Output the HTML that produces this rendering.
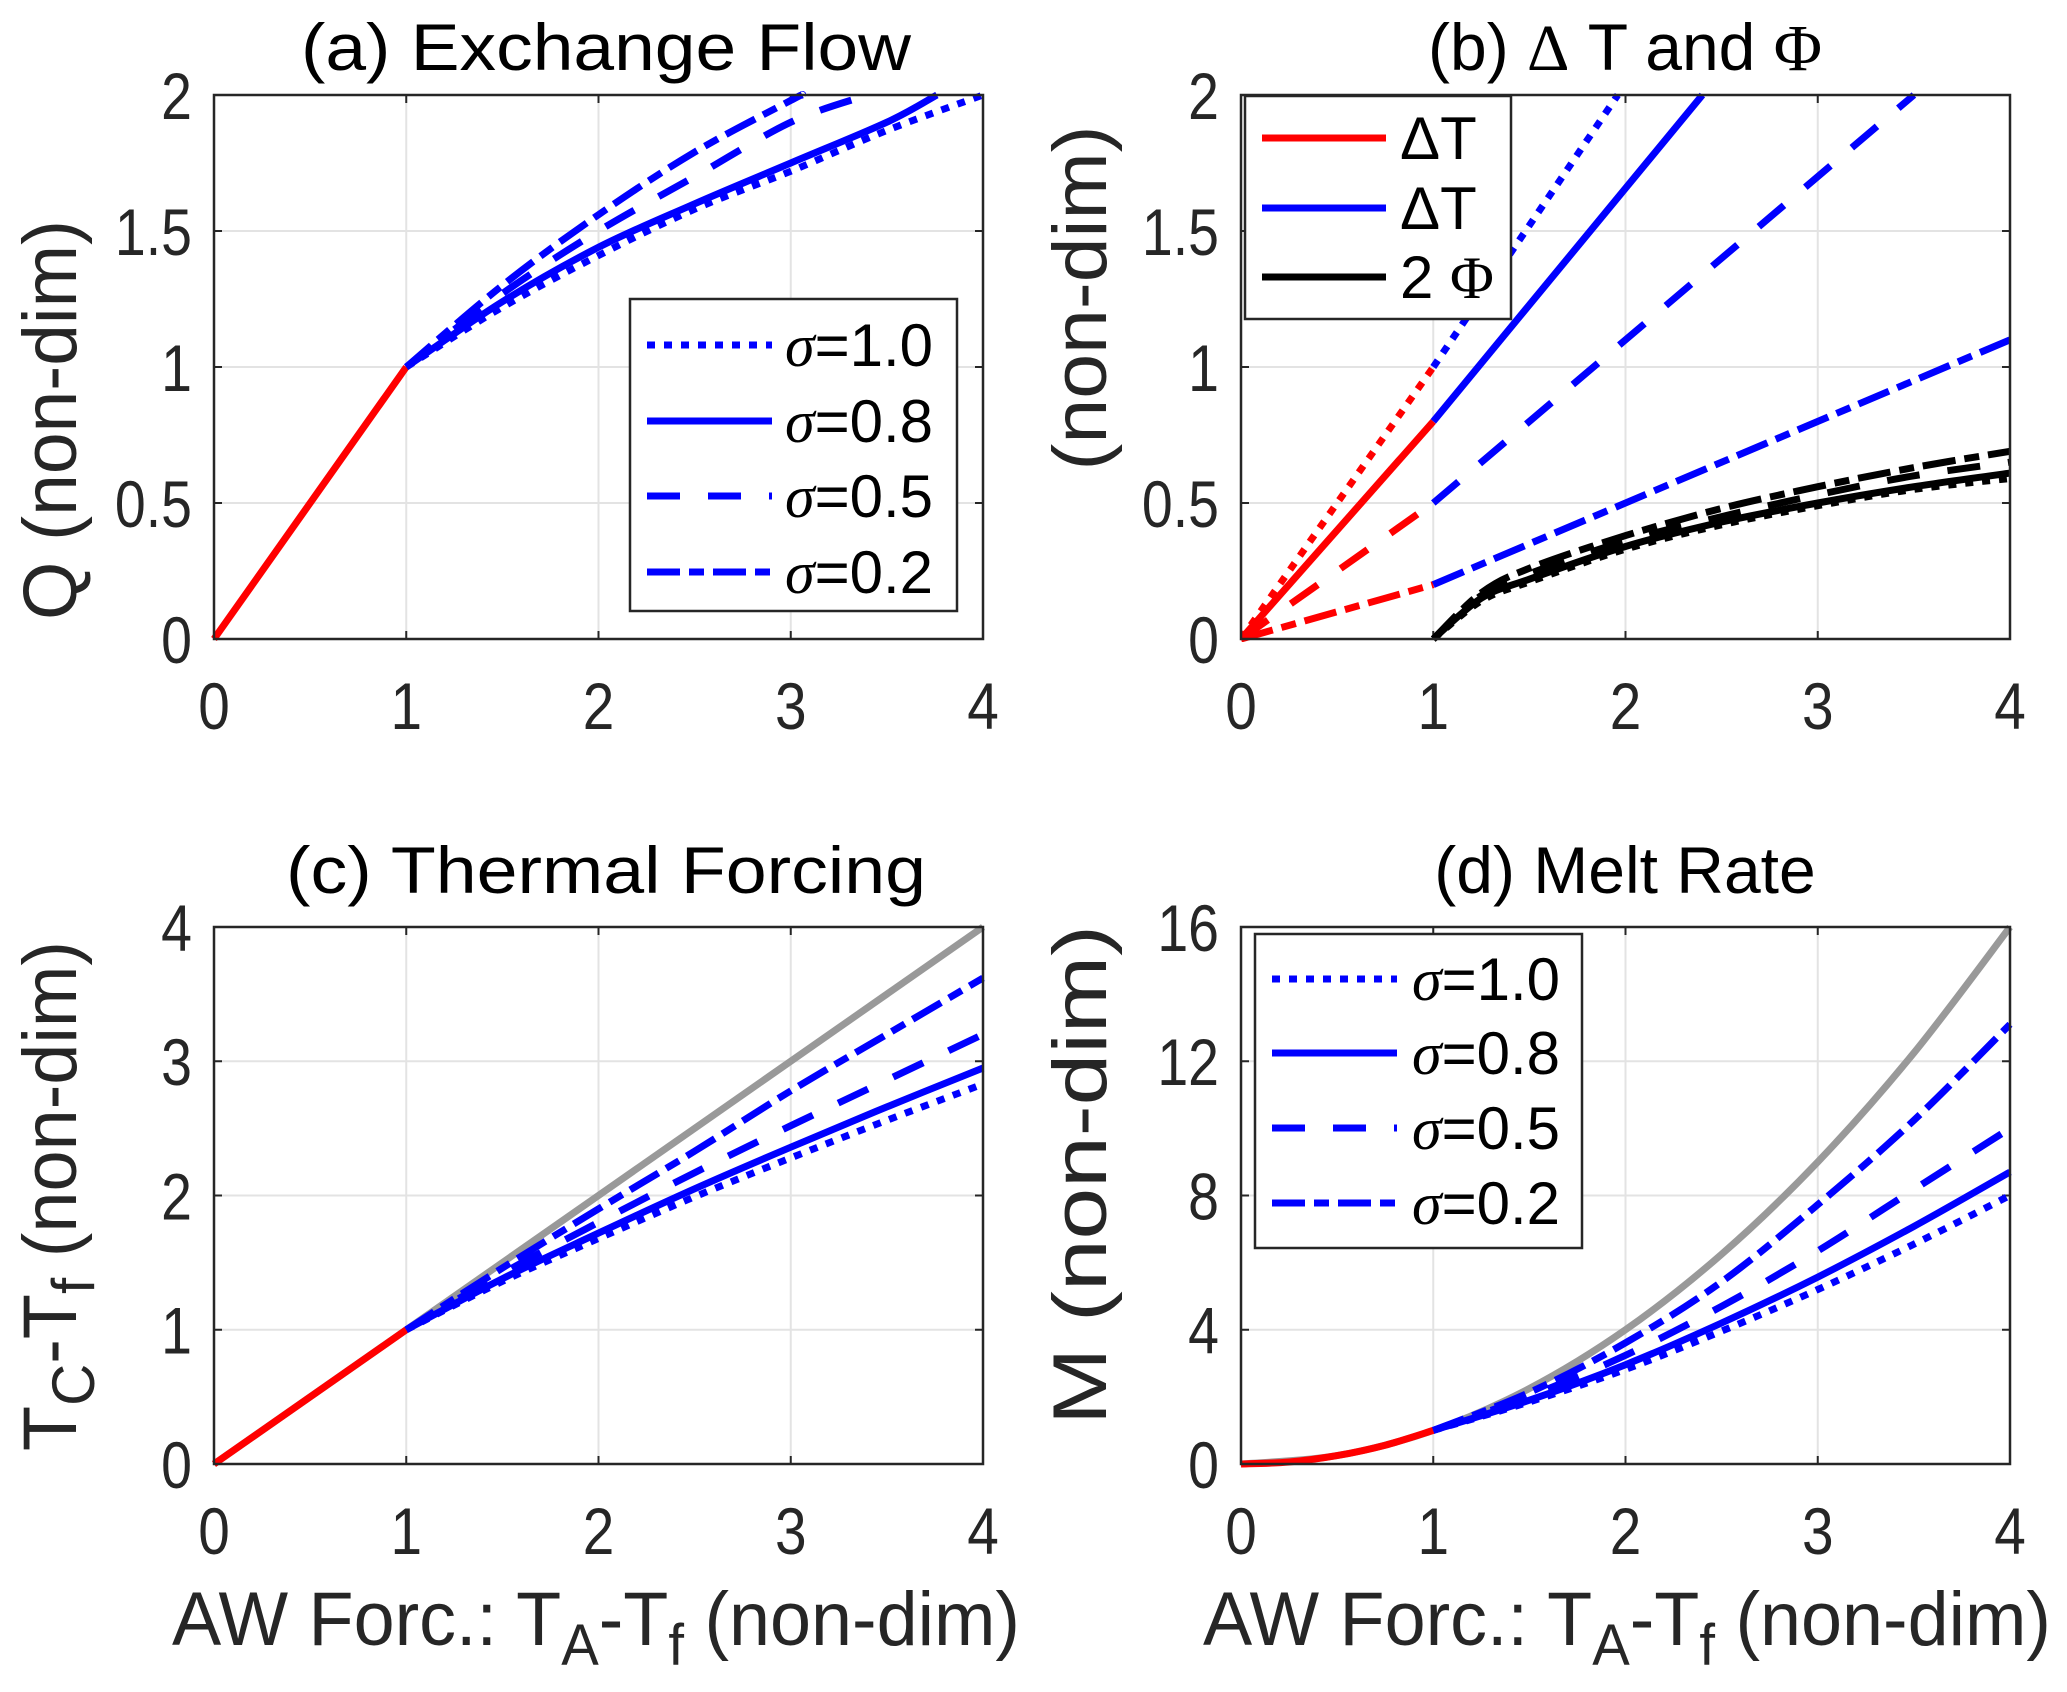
<!DOCTYPE html>
<html><head><meta charset="utf-8"><style>
html,body{margin:0;padding:0;background:#fff;}
svg{display:block;font-family:"Liberation Sans",Arial,sans-serif;}
.nar{transform-box:fill-box;transform-origin:center;transform:scaleX(0.86);}
.narR{transform-box:fill-box;transform-origin:right center;transform:scaleX(0.84);}
</style></head><body>
<svg id="fig" width="2067" height="1692" viewBox="0 0 2067 1692" xmlns="http://www.w3.org/2000/svg"></svg>
<script>
// ---------- data ----------
const xTicks = [0,1,2,3,4];
const yTicksA = [0,0.5,1,1.5,2];
const yTicksB = [0,0.5,1,1.5,2];
const yTicksC = [0,1,2,3,4];
const yTicksD = [0,4,8,12,16];
const tickLabelsA = ['0','0.5','1','1.5','2'];
const tickLabelsC = ['0','1','2','3','4'];
const tickLabelsD = ['0','4','8','12','16'];
const sigmaLabels = ['1.0','0.8','0.5','0.2'];

// (a) exchange flow
const redQx = [0,1];
const redQy = [0,1];
const qX10 = [1,1.5,2,2.5,3,3.5,4];       const qY10 = [1,1.22,1.41,1.58,1.72,1.87,2.0];
const qX08 = [1,1.5,2,2.5,3,3.5,3.76];    const qY08 = [1,1.24,1.44,1.6,1.75,1.9,2.0];
const qX05 = [1,1.5,2,2.5,3,3.4];         const qY05 = [1,1.27,1.5,1.7,1.9,2.0];
const qX02 = [1,1.5,2,2.5,3,3.06];        const qY02 = [1,1.3,1.56,1.79,1.98,2.0];

// (b) delta T and Phi
const dtRedX = [0,1];
const dtRed10 = [0,1.0]; const dtRed08 = [0,0.8]; const dtRed05 = [0,0.5]; const dtRed02 = [0,0.2];
const dtX10 = [1,1.96]; const dtY10 = [1.0,2.0];
const dtX08 = [1,2.4];  const dtY08 = [0.8,2.0];
const dtX05 = [1,3.5];  const dtY05 = [0.5,2.0];
const dtX02 = [1,4];    const dtY02 = [0.2,1.1];
const phiX = [1,1.25,1.5,2,2.5,3,3.5,4];
const phi10 = [0,0.14,0.21,0.33,0.42,0.49,0.55,0.59];
const phi08 = [0,0.15,0.22,0.34,0.43,0.5,0.56,0.61];
const phi05 = [0,0.16,0.24,0.36,0.45,0.53,0.6,0.65];
const phi02 = [0,0.17,0.26,0.38,0.48,0.56,0.63,0.69];

// (c) thermal forcing
const tcRedX = [0,1]; const tcRedY = [0,1];
const tcGrayX = [0,4]; const tcGrayY = [0,4];
const tcX = [1,1.5,2,2.5,3,3.5,4];
const tc10 = [1,1.36,1.68,1.99,2.28,2.56,2.83];
const tc08 = [1,1.38,1.72,2.05,2.36,2.66,2.95];
const tc05 = [1,1.42,1.8,2.17,2.52,2.86,3.2];
const tc02 = [1,1.46,1.9,2.33,2.78,3.2,3.62];

// (d) melt rate
const mRedX = [0,0.25,0.5,0.75,1]; const mRedY = [0,0.06,0.25,0.56,1];
const mGrayX = [0,0.5,1,1.5,2,2.5,3,3.5,4]; const mGrayY = [0,0.25,1,2.25,4,6.25,9,12.25,16];
const mX = [1,1.5,2,2.5,3,3.5,4];
const m10 = [1,1.85,2.82,3.96,5.2,6.55,8.0];
const m08 = [1,1.9,2.96,4.2,5.57,7.08,8.7];
const m05 = [1,2.02,3.24,4.7,6.35,8.18,10.0];
const m02 = [1,2.13,3.61,5.43,7.73,10.24,13.1];

// ---------- drawing ----------
const NS='http://www.w3.org/2000/svg';
const svg=document.getElementById('fig');
const STY={dot:'8 9',solid:'',dash:'33 28',dashdot:'33 9 15 9'};
const BLUE='#0000ff', RED='#ff0000', GRAY='#999999', INK='#262626';
const LW=7;
function mk(tag,attrs,parent){const e=document.createElementNS(NS,tag);for(const k in attrs)e.setAttribute(k,attrs[k]);(parent||svg).appendChild(e);return e;}
function smoothPath(pts){
  if(pts.length<3){return 'M'+pts.map(p=>p[0].toFixed(1)+','+p[1].toFixed(1)).join(' L');}
  let d='M'+pts[0][0].toFixed(1)+','+pts[0][1].toFixed(1);
  for(let i=0;i<pts.length-1;i++){
    const p0=pts[Math.max(0,i-1)],p1=pts[i],p2=pts[i+1],p3=pts[Math.min(pts.length-1,i+2)];
    const c1=[p1[0]+(p2[0]-p0[0])/6,p1[1]+(p2[1]-p0[1])/6];
    const c2=[p2[0]-(p3[0]-p1[0])/6,p2[1]-(p3[1]-p1[1])/6];
    d+=' C'+c1.map(v=>v.toFixed(1)).join(',')+' '+c2.map(v=>v.toFixed(1)).join(',')+' '+p2[0].toFixed(1)+','+p2[1].toFixed(1);
  }
  return d;
}
function makeAxes(L,R,T,B,ymax){return {sx:x=>L+x/4*(R-L),sy:y=>B-y/ymax*(B-T),L,R,T,B};}
function drawFrame(ax,yt,ylabels,g){
  for(const t of xTicks){
    const gl=mk('line',{x1:ax.sx(t),x2:ax.sx(t),y1:ax.T,y2:ax.B,stroke:'#e3e3e3','stroke-width':2},g);
    
    
  }
  yt.forEach(t=>{
    const gl=mk('line',{x1:ax.L,x2:ax.R,y1:ax.sy(t),y2:ax.sy(t),stroke:'#e3e3e3','stroke-width':2},g);
    
    
  });
  xTicks.forEach(t=>{
    const tx=mk('text',{x:ax.sx(t),y:ax.B+90,'font-size':66,'text-anchor':'middle',fill:INK,class:'nar'},g);
    tx.textContent=String(t);
    
    
    mk('line',{x1:ax.sx(t),x2:ax.sx(t),y1:ax.B,y2:ax.B-8,stroke:INK,'stroke-width':2},g);
    mk('line',{x1:ax.sx(t),x2:ax.sx(t),y1:ax.T,y2:ax.T+8,stroke:INK,'stroke-width':2},g);
  });
  yt.forEach((t,i)=>{
    const tx=mk('text',{x:ax.L-22,y:ax.sy(t)+24,'font-size':66,'text-anchor':'end',fill:INK,class:'narR'},g);
    tx.textContent=ylabels[i];
    
    
    mk('line',{x1:ax.L,x2:ax.L+8,y1:ax.sy(t),y2:ax.sy(t),stroke:INK,'stroke-width':2},g);
    mk('line',{x1:ax.R,x2:ax.R-8,y1:ax.sy(t),y2:ax.sy(t),stroke:INK,'stroke-width':2},g);
  });
}
function drawBox(ax,g){
  const r=mk('rect',{x:ax.L,y:ax.T,width:ax.R-ax.L,height:ax.B-ax.T,fill:'none',stroke:INK,'stroke-width':2.5},g);
  
  
}
function series(ax,xs,ys,color,style,name,g){
  const pts=xs.map((x,i)=>[ax.sx(x),ax.sy(ys[i])]);
  const p=mk('path',{d:smoothPath(pts),fill:'none',stroke:color,'stroke-width':LW,'stroke-dasharray':STY[style]||'none'},g);
  
  
}
function text(x,y,str,size,attrs,name,g){
  const t=mk('text',Object.assign({x:x,y:y,'font-size':size,fill:'#000'},attrs||{}),g);
  t.innerHTML=str;
  
  
  return t;
}
function sigmaLegend(x0,y0,x1,y1,ys,lineX0,lineX1,textX,g){
  const lg=mk('g',{},g);
  
  
  mk('rect',{x:x0,y:y0,width:x1-x0,height:y1-y0,fill:'#fff',stroke:INK,'stroke-width':2.5},lg);
  const styles=['dot','solid','dash','dashdot'];
  styles.forEach((s,i)=>{
    const e=mk('g',{},lg);
    
    
    mk('line',{x1:lineX0,x2:lineX1,y1:ys[i],y2:ys[i],stroke:BLUE,'stroke-width':LW,'stroke-dasharray':STY[s]||'none'},e);
    const t=mk('text',{x:textX,y:ys[i]+21,'font-size':60,fill:'#000'},e);
    t.innerHTML='<tspan font-family="Liberation Serif, serif" font-style="italic">σ</tspan>='+sigmaLabels[i];
  });
}

// Panel (a)
(function(){
  const g=mk('g',{});  
  const ax=makeAxes(214,983,95,639,2);
  drawFrame(ax,yTicksA,tickLabelsA,g);
  series(ax,redQx,redQy,RED,'solid','red-q-line',g);
  series(ax,qX10,qY10,BLUE,'dot','q-sigma-1.0',g);
  series(ax,qX08,qY08,BLUE,'solid','q-sigma-0.8',g);
  series(ax,qX05,qY05,BLUE,'dash','q-sigma-0.5',g);
  series(ax,qX02,qY02,BLUE,'dashdot','q-sigma-0.2',g);
  drawBox(ax,g);
  sigmaLegend(630,299,957,611,[345,421,496,572],647,772,785,g);
  text(606,70,'(a) Exchange Flow',66,{'text-anchor':'middle',textLength:610,lengthAdjust:'spacingAndGlyphs'},'title-a',g);
  text(0,0,'Q (non-dim)',76,{'text-anchor':'middle',fill:INK,transform:'translate(76,420) rotate(-90)',textLength:400,lengthAdjust:'spacingAndGlyphs'},'y-axis-title-a',g);
})();

// Panel (b)
(function(){
  const g=mk('g',{});  
  const ax=makeAxes(1241,2010,95,639,2);
  drawFrame(ax,yTicksB,tickLabelsA,g);
  const clip=mk('clipPath',{id:'clipb'},g); mk('rect',{x:ax.L,y:ax.T-3,width:ax.R-ax.L,height:ax.B-ax.T+6},clip);
  const cg=mk('g',{'clip-path':'url(#clipb)'},g);
  series(ax,dtRedX,dtRed10,RED,'dot','dt-red-sigma-1.0',cg);
  series(ax,dtRedX,dtRed08,RED,'solid','dt-red-sigma-0.8',cg);
  series(ax,dtRedX,dtRed05,RED,'dash','dt-red-sigma-0.5',cg);
  series(ax,dtRedX,dtRed02,RED,'dashdot','dt-red-sigma-0.2',cg);
  series(ax,dtX10,dtY10,BLUE,'dot','dt-blue-sigma-1.0',cg);
  series(ax,dtX08,dtY08,BLUE,'solid','dt-blue-sigma-0.8',cg);
  series(ax,dtX05,dtY05,BLUE,'dash','dt-blue-sigma-0.5',cg);
  series(ax,dtX02,dtY02,BLUE,'dashdot','dt-blue-sigma-0.2',cg);
  series(ax,phiX,phi10,'#000','dot','phi-sigma-1.0',cg);
  series(ax,phiX,phi08,'#000','solid','phi-sigma-0.8',cg);
  series(ax,phiX,phi05,'#000','dash','phi-sigma-0.5',cg);
  series(ax,phiX,phi02,'#000','dashdot','phi-sigma-0.2',cg);
  drawBox(ax,g);
  const lg=mk('g',{},g);  
  mk('rect',{x:1245,y:96,width:266,height:223,fill:'#fff',stroke:INK,'stroke-width':2.5},lg);
  const cols=[RED,BLUE,'#000'], labs=['ΔT','ΔT','2 <tspan font-family="Liberation Serif, serif">Φ</tspan>'], ly=[138,208,277];
  cols.forEach((c,i)=>{
    const e=mk('g',{},lg);
    
    
    mk('line',{x1:1262,x2:1386,y1:ly[i],y2:ly[i],stroke:c,'stroke-width':LW},e);
    const t=mk('text',{x:1400,y:ly[i]+21,'font-size':60,fill:'#000'},e); t.innerHTML=labs[i];
  });
  text(1625,70,'(b) <tspan font-family="Liberation Serif, serif">Δ</tspan> T and <tspan font-family="Liberation Serif, serif">Φ</tspan>',66,{'text-anchor':'middle'},'title-b',g);
  text(0,0,'(non-dim)',76,{'text-anchor':'middle',fill:INK,transform:'translate(1106,298) rotate(-90)',textLength:345,lengthAdjust:'spacingAndGlyphs'},'y-axis-title-b',g);
})();

// Panel (c)
(function(){
  const g=mk('g',{});  
  const ax=makeAxes(214,983,927,1464,4);
  drawFrame(ax,yTicksC,tickLabelsC,g);
  series(ax,tcGrayX,tcGrayY,GRAY,'solid','tc-gray-line',g);
  series(ax,tcRedX,tcRedY,RED,'solid','tc-red-line',g);
  series(ax,tcX,tc10,BLUE,'dot','tc-sigma-1.0',g);
  series(ax,tcX,tc08,BLUE,'solid','tc-sigma-0.8',g);
  series(ax,tcX,tc05,BLUE,'dash','tc-sigma-0.5',g);
  series(ax,tcX,tc02,BLUE,'dashdot','tc-sigma-0.2',g);
  drawBox(ax,g);
  text(606,893,'(c) Thermal Forcing',66,{'text-anchor':'middle',textLength:640,lengthAdjust:'spacingAndGlyphs'},'title-c',g);
  text(0,0,'T<tspan font-size="60" dy="18">C</tspan><tspan dy="-18">-T</tspan><tspan font-size="60" dy="18">f</tspan><tspan dy="-18"> (non-dim)</tspan>',76,{'text-anchor':'middle',fill:INK,transform:'translate(76,1196) rotate(-90)',textLength:510,lengthAdjust:'spacingAndGlyphs'},'y-axis-title-c',g);
  text(596,1645,'AW Forc.: T<tspan font-size="58" dy="20">A</tspan><tspan dy="-20">-T</tspan><tspan font-size="58" dy="20">f</tspan><tspan dy="-20"> (non-dim)</tspan>',76,{'text-anchor':'middle',fill:INK,textLength:848,lengthAdjust:'spacingAndGlyphs'},'x-axis-title-c',g);
})();

// Panel (d)
(function(){
  const g=mk('g',{});  
  const ax=makeAxes(1241,2010,927,1464,16);
  drawFrame(ax,yTicksD,tickLabelsD,g);
  series(ax,mGrayX,mGrayY,GRAY,'solid','m-gray-line',g);
  series(ax,mRedX,mRedY,RED,'solid','m-red-line',g);
  series(ax,mX,m10,BLUE,'dot','m-sigma-1.0',g);
  series(ax,mX,m08,BLUE,'solid','m-sigma-0.8',g);
  series(ax,mX,m05,BLUE,'dash','m-sigma-0.5',g);
  series(ax,mX,m02,BLUE,'dashdot','m-sigma-0.2',g);
  drawBox(ax,g);
  sigmaLegend(1255,934,1582,1248,[979,1053,1128,1203],1272,1397,1412,g);
  text(1625,893,'(d) Melt Rate',66,{'text-anchor':'middle'},'title-d',g);
  text(0,0,'M (non-dim)',76,{'text-anchor':'middle',fill:INK,transform:'translate(1106,1175) rotate(-90)',textLength:500,lengthAdjust:'spacingAndGlyphs'},'y-axis-title-d',g);
  text(1627,1645,'AW Forc.: T<tspan font-size="58" dy="20">A</tspan><tspan dy="-20">-T</tspan><tspan font-size="58" dy="20">f</tspan><tspan dy="-20"> (non-dim)</tspan>',76,{'text-anchor':'middle',fill:INK,textLength:848,lengthAdjust:'spacingAndGlyphs'},'x-axis-title-d',g);
})();
</script>
</body></html>
